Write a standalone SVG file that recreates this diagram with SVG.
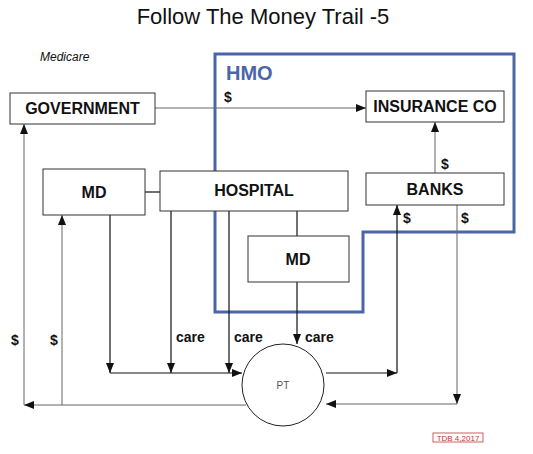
<svg xmlns="http://www.w3.org/2000/svg" width="533" height="454" viewBox="0 0 533 454">
<defs>
<style>
text{font-family:"Liberation Sans",Arial,sans-serif;}
.box{fill:#fff;stroke:#333;stroke-width:1;}
.lbl{font-size:16px;font-weight:bold;fill:#111;text-anchor:middle;}
.d{font-size:14px;font-weight:bold;fill:#111;}
.k{fill:none;stroke:#111;stroke-width:1.2;}
.g{fill:none;stroke:#666;stroke-width:1;}
</style>
<marker id="a" viewBox="0 0 10 8" refX="10" refY="4" markerWidth="10" markerHeight="8" markerUnits="userSpaceOnUse" orient="auto"><path d="M0,0 L10,4 L0,8 Z" fill="#111"/></marker>
</defs>
<rect width="533" height="454" fill="#fff"/>
<text x="263" y="24" font-size="22" text-anchor="middle" fill="#111">Follow The Money Trail -5</text>
<text x="40" y="61" font-size="12" font-style="italic" fill="#111">Medicare</text>

<g id="hmo">
<polygon points="215,54 514,54 514,232 363,232 363,312 215,312" fill="none" stroke="#4a66a8" stroke-width="3"/>
<text x="226" y="80" font-size="20" font-weight="bold" fill="#4a66a8">HMO</text>
</g>

<g id="connectors">
<line class="g" x1="155" y1="108" x2="366" y2="108" marker-end="url(#a)"/>
<line class="g" x1="435" y1="173" x2="435" y2="122" marker-end="url(#a)"/>
<line class="k" x1="145" y1="192" x2="160" y2="192"/>
<line class="k" x1="110" y1="215" x2="110" y2="373" marker-end="url(#a)"/>
<line class="k" x1="171" y1="211" x2="171" y2="373" marker-end="url(#a)"/>
<line class="k" x1="229" y1="211" x2="229" y2="373" marker-end="url(#a)"/>
<line class="k" x1="297" y1="211" x2="297" y2="236"/>
<line class="k" x1="297" y1="282" x2="297" y2="344" marker-end="url(#a)"/>
<line class="k" x1="110" y1="373" x2="242" y2="373" marker-end="url(#a)"/>
<line class="k" x1="326" y1="373" x2="397" y2="373" marker-end="url(#a)"/>
<line class="k" x1="397" y1="373" x2="397" y2="205" marker-end="url(#a)"/>
<line class="g" x1="457" y1="205" x2="457" y2="404" marker-end="url(#a)"/>
<line class="g" x1="457" y1="404" x2="326" y2="404" marker-end="url(#a)"/>
<line class="g" x1="246" y1="405" x2="24" y2="405" marker-end="url(#a)"/>
<line class="g" x1="24" y1="405" x2="24" y2="124" marker-end="url(#a)"/>
<line class="g" x1="62" y1="405" x2="62" y2="215" marker-end="url(#a)"/>
<text class="d" x="224" y="102">$</text>
<text class="d" x="441" y="169">$</text>
<text class="d" x="403" y="223">$</text>
<text class="d" x="461" y="223">$</text>
<text class="d" x="11" y="345" font-size="15">$</text>
<text class="d" x="50" y="345" font-size="15">$</text>
<text class="d" x="176" y="342">care</text>
<text class="d" x="234" y="342">care</text>
<text class="d" x="305" y="342">care</text>
</g>

<g id="government"><rect class="box" x="10" y="93" width="145" height="31"/><text class="lbl" x="82.5" y="114">GOVERNMENT</text></g>
<g id="insurance"><rect class="box" x="366" y="91" width="138" height="31"/><text class="lbl" x="435" y="112">INSURANCE CO</text></g>
<g id="banks"><rect class="box" x="366" y="173" width="138" height="32"/><text class="lbl" x="435" y="195">BANKS</text></g>
<g id="md1"><rect class="box" x="43" y="169" width="102" height="46"/><text class="lbl" x="94" y="198">MD</text></g>
<g id="hospital"><rect class="box" x="160" y="171" width="188" height="40"/><text class="lbl" x="254" y="196">HOSPITAL</text></g>
<g id="md2"><rect class="box" x="248" y="236" width="101" height="46"/><text class="lbl" x="298" y="265">MD</text></g>
<g id="pt"><circle cx="283" cy="385" r="41" fill="#fff" stroke="#222" stroke-width="1"/><text x="283" y="389" font-size="10" fill="#555" text-anchor="middle">PT</text></g>

<g id="stamp"><rect x="433" y="433" width="50" height="9" fill="#fff" stroke="#c33" stroke-width="0.8"/><text x="458" y="440.5" font-size="8" fill="#c33" text-anchor="middle">TDB 4,2017</text></g>
</svg>
